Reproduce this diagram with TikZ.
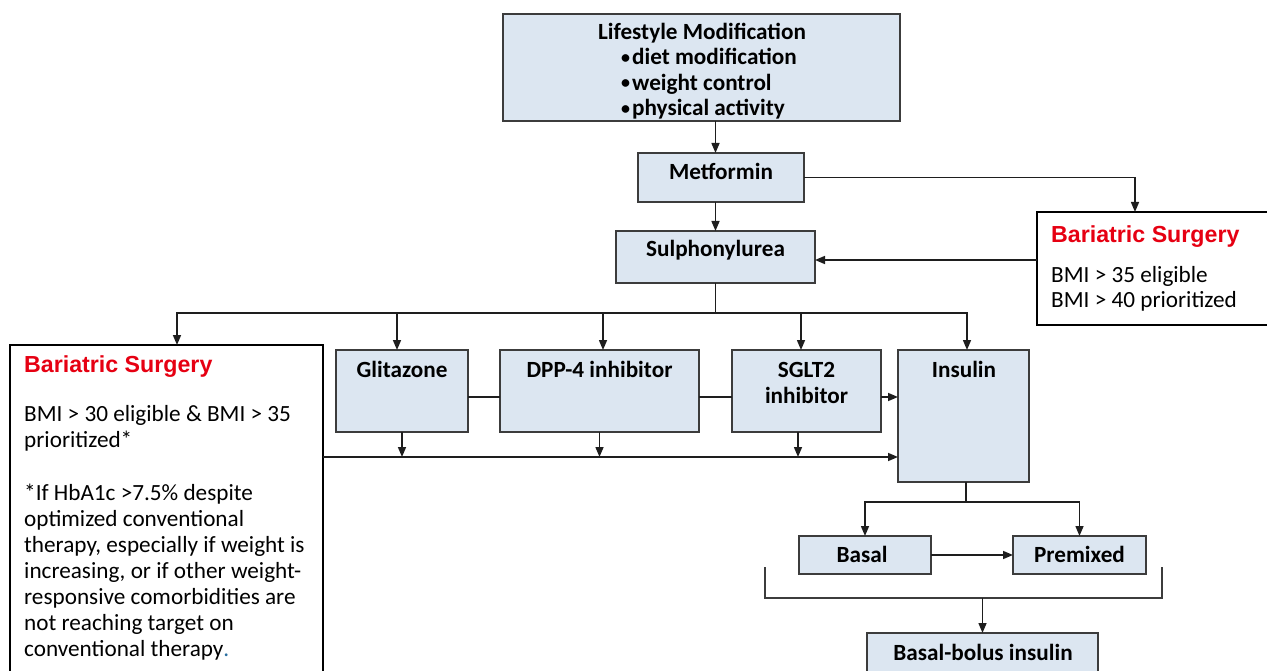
\documentclass[tikz,border=0pt]{standalone}
\usepackage{fontspec}
\setmainfont{Carlito}
\newfontfamily\arialfam{Liberation Sans}
\usetikzlibrary{arrows.meta,calc}
\definecolor{boxfill}{RGB}{220,230,241}
\definecolor{boxline}{RGB}{60,60,60}
\definecolor{linecol}{RGB}{30,30,30}
\definecolor{headred}{RGB}{230,0,18}
\definecolor{dotblue}{RGB}{40,110,160}
\newcommand{\smbul}{\raisebox{1.5pt}{\fontsize{18}{18}\selectfont•}\kern2pt}
\begin{document}
\begin{tikzpicture}[x=1pt,y=-1pt,
  box/.style={draw=boxline, fill=boxfill, line width=1.6pt, inner sep=0pt, outer sep=0pt, anchor=north west},
  wbox/.style={draw=black, fill=white, line width=2.3pt, inner sep=0pt, outer sep=0pt, anchor=north west},
  btxt/.style={font=\fontsize{23.2}{26}\selectfont\bfseries, inner sep=0pt, anchor=base, align=center, text=black},
  rtxt/.style={font=\fontsize{23.2}{26}\selectfont, inner sep=0pt, anchor=base west, align=left, text=black},
  redhead/.style={font=\fontsize{23.2}{26}\selectfont\arialfam\bfseries, inner sep=0pt, anchor=base west, text=headred},
  conn/.style={draw=linecol, line width=1.5pt},
  arr/.style={conn, -{Triangle[length=10pt,width=8pt]}}
]
\clip (0,0) rectangle (1267,671);
\fill[white] (0,0) rectangle (1267,671);

% boxes
\node[box, minimum width=397pt, minimum height=107pt] (life) at (503,14) {};
\node[box, minimum width=166pt, minimum height=49pt] (met) at (638,153) {};
\node[box, minimum width=199pt, minimum height=52pt] (sul) at (616,231) {};
\node[wbox, minimum width=240pt, minimum height=113pt] (rbox) at (1037,212) {};
\node[wbox, minimum width=313pt, minimum height=327pt] (lbox) at (10,345) {};
\node[box, minimum width=132pt, minimum height=82pt] (glit) at (336,350) {};
\node[box, minimum width=199pt, minimum height=82pt] (dpp) at (500,350) {};
\node[box, minimum width=149pt, minimum height=82pt] (sglt) at (732,350) {};
\node[box, minimum width=131pt, minimum height=132pt] (ins) at (898,350) {};
\node[box, minimum width=132pt, minimum height=38pt] (basal) at (799,536) {};
\node[box, minimum width=133pt, minimum height=38pt] (prem) at (1013,536) {};
\node[box, minimum width=231pt, minimum height=50pt] (bb) at (867,633) {};

% texts (multi-line nodes: base anchor = last line's baseline)
\node[btxt] (lifeT) at (702,40) {Lifestyle Modification};
\node[btxt, anchor=base west, align=left, font=\fontsize{23.2}{25.5}\selectfont\bfseries] (lifeL) at (621,116)
  {\smbul diet modification\\\smbul weight control\\\smbul physical activity};
\node[btxt] (metT) at (721,180) {Metformin};
\node[btxt] (sulT) at (715.5,257) {Sulphonylurea};
\node[btxt] (glitT) at (402,377) {Glitazone};
\node[btxt] (dppT) at (599.5,377) {DPP-4 inhibitor};
\node[btxt] (sgltT) at (806.5,403) {SGLT2\\inhibitor};
\node[btxt] (insT) at (964,377) {Insulin};
\node[btxt] (basalT) at (862,562) {Basal};
\node[btxt] (premT) at (1079.5,562) {Premixed};
\node[btxt] (bbT) at (983,660) {Basal-bolus insulin};

\node[redhead] (rhead) at (1051,243) {Bariatric Surgery};
\node[rtxt, font=\fontsize{23.2}{25}\selectfont] (rbody) at (1051,308) {BMI > 35 eligible\\BMI > 40 prioritized};
\node[redhead] (lhead) at (24,372) {Bariatric Surgery};
\node[rtxt] (lbody1) at (24,447) {BMI > 30 eligible \& BMI > 35\\prioritized*};
\node[rtxt] (lbody2) at (24,656) {*If HbA1c >7.5\% despite\\optimized conventional\\therapy, especially if weight is\\increasing, or if other weight-\\responsive comorbidities are\\not reaching target on\\conventional therapy\textcolor{dotblue}{.}};

% connectors
\coordinate (bus) at (715.5,313);
\coordinate (bus2) at (0,457);
\coordinate (bus3) at (0,502);
\coordinate (midrow) at (0,397);
\draw[arr] (life.south -| sul) -- (met.north -| sul);
\draw[arr] (met.south -| sul) -- (sul.north);
\draw[arr] (met.east) -| ([xshift=-22pt]rbox.north);
\draw[arr] ([yshift=8.5pt]rbox.west) -- ([yshift=8.5pt]rbox.west -| sul.east);

\draw[conn] (sul.south) -- (bus);
\draw[arr] (bus) -| ([xshift=10.5pt]lbox.north);
\draw[arr] (bus) -| ([xshift=3.5pt]ins.north);
\draw[arr] ([xshift=-5pt]glit.north |- bus) -- ([xshift=-5pt]glit.north);
\draw[arr] ([xshift=3.5pt]dpp.north |- bus) -- ([xshift=3.5pt]dpp.north);
\draw[arr] ([xshift=-5.5pt]sglt.north |- bus) -- ([xshift=-5.5pt]sglt.north);

\draw[conn] (glit.east |- midrow) -- (dpp.west |- midrow);
\draw[conn] (dpp.east |- midrow) -- (sglt.west |- midrow);
\draw[arr] (sglt.east |- midrow) -- (ins.west |- midrow);

\draw[arr] (lbox.east |- bus2) -- (ins.west |- bus2);
\draw[arr] (glit.south) -- (glit.south |- bus2);
\draw[arr] (dpp.south) -- (dpp.south |- bus2);
\draw[arr] ([xshift=-8.5pt]sglt.south) -- ([xshift=-8.5pt]sglt.south |- bus2);

\draw[conn] ([xshift=2.5pt]ins.south) -- ([xshift=2.5pt]ins.south |- bus3);
\draw[arr] ([xshift=2.5pt]ins.south |- bus3) -| (basal.north);
\draw[arr] ([xshift=2.5pt]ins.south |- bus3) -| (prem.north);
\draw[arr] (basal.east) -- (prem.west);

\coordinate (brL) at (765,567);
\coordinate (brR) at (1162,567);
\coordinate (brB) at (0,598);
\draw[conn, draw=boxline] (brL) -- (brL |- brB) -- (brR |- brB) -- (brR);
\draw[arr] (bb.north |- brB) -- (bb.north);
\end{tikzpicture}
\end{document}
